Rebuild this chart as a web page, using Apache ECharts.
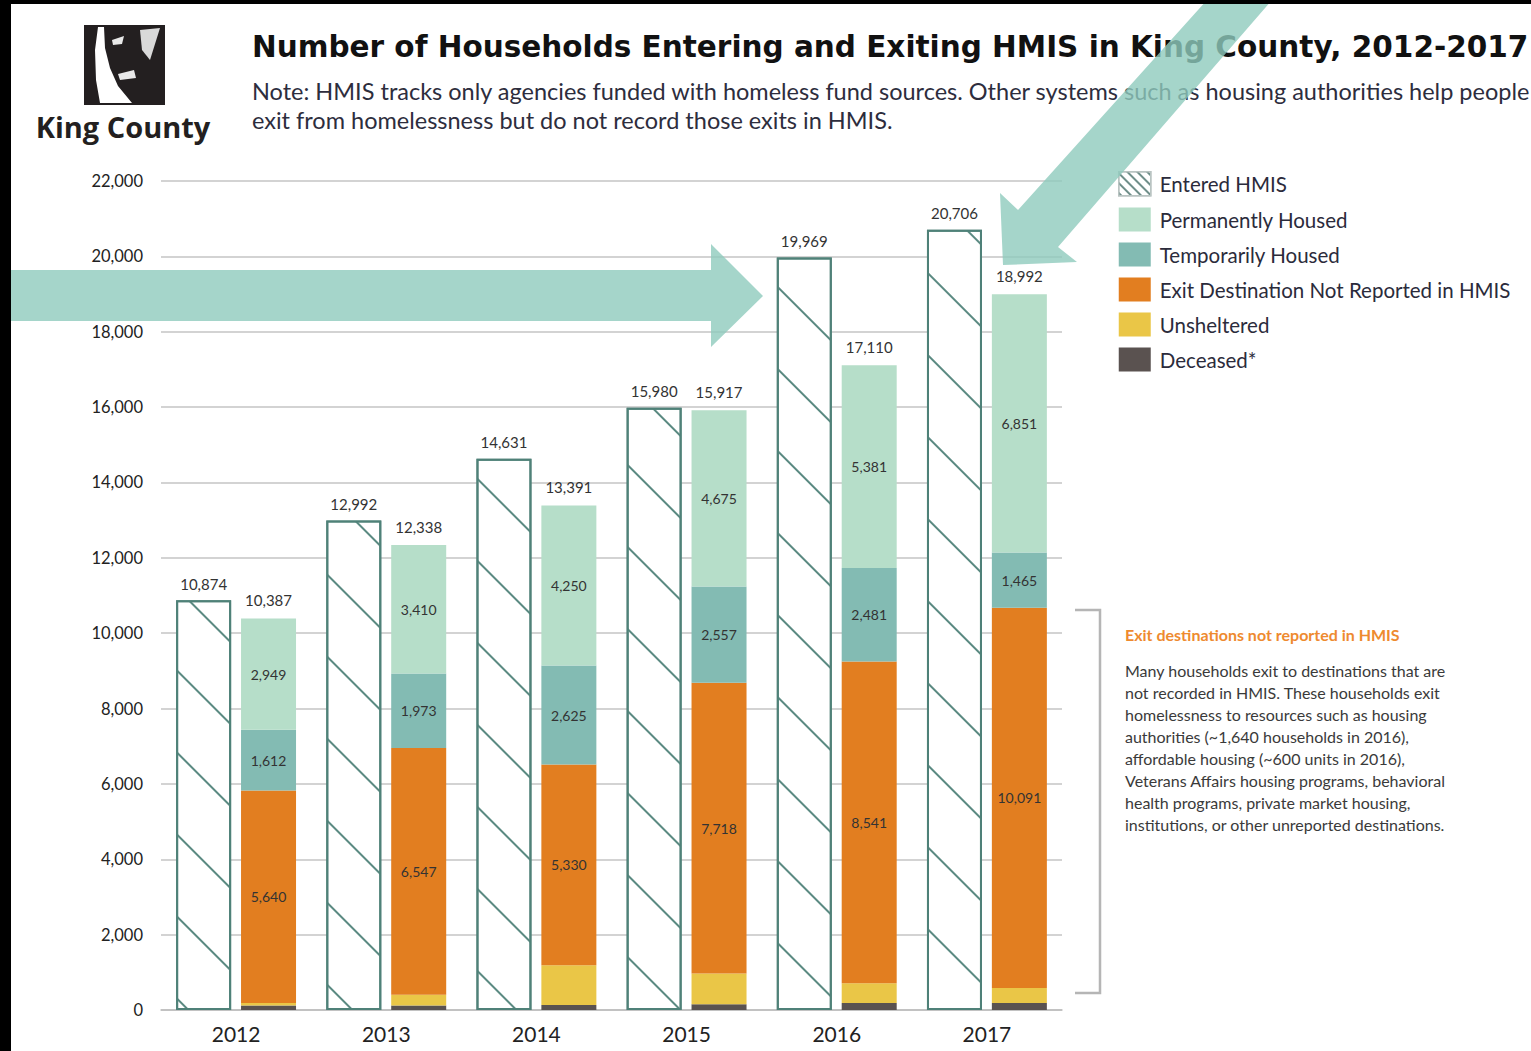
<!DOCTYPE html>
<html>
<head>
<meta charset="utf-8">
<title>Households Entering and Exiting HMIS, King County</title>
<script src="https://cdn.jsdelivr.net/npm/echarts@6/dist/echarts.min.js"></script>
<style>
  html, body { margin: 0; padding: 0; background: #fff; }
  #chart { width: 1531px; height: 1051px; }
</style>
</head>
<body>
<div id="chart"></div>
<script>
// values (2012-2017)
const years = ['2012', '2013', '2014', '2015', '2016', '2017'];
const entered = [10874, 12992, 14631, 15980, 19969, 20706];
const permHoused = [2949, 3410, 4250, 4675, 5381, 6851];
const tempHoused = [1612, 1973, 2625, 2557, 2481, 1465];
const notReported = [5640, 6547, 5330, 7718, 8541, 10091];
const unsheltered = [66, 290, 1050, 817, 522, 400];
const deceased = [120, 118, 136, 150, 185, 185];
const exitTotals = [10387, 12338, 13391, 15917, 17110, 18992];

const yMax = 22000;
const yStep = 2000;

const fmt = v => Number(v).toLocaleString('en-US');
const BODY = 'Lato, "Open Sans", sans-serif';

const chart = echarts.init(document.getElementById('chart'), null, { renderer: 'svg' });

// hatch pattern for the "Entered HMIS" bars
const hatch = {
  symbol: 'rect',
  symbolSize: 1,
  color: '#5b8a82',
  dashArrayX: [1, 0],
  dashArrayY: [2, 56],
  rotation: Math.PI / 4
};

const insideLabel = {
  show: true,
  position: 'inside',
  fontFamily: BODY,
  fontSize: 14,
  color: '#333'
};

function exitSeries(name, data, color, withLabel) {
  return {
    name: name,
    type: 'bar',
    stack: 'exit',
    barWidth: 55,
    data: data,
    itemStyle: { color: color },
    label: withLabel ? Object.assign({ formatter: p => fmt(p.value) }, insideLabel) : { show: false }
  };
}

chart.setOption({
  animation: false,
  backgroundColor: '#fff',
  title: {
    text: 'Number of Households Entering and Exiting HMIS in King County, 2012-2017',
    subtext: 'Note: HMIS tracks only agencies funded with homeless fund sources. Other systems such as housing authorities help people\nexit from homelessness but do not record those exits in HMIS.',
    left: 252,
    top: 32,
    padding: 0,
    itemGap: 14,
    textStyle: { fontFamily: '"DejaVu Sans", sans-serif', fontWeight: 'bold', fontSize: 29.5, color: '#111' },
    subtextStyle: { fontFamily: BODY, fontSize: 23.5, color: '#2d2d3d', lineHeight: 29 }
  },
  legend: {
    orient: 'vertical',
    left: 1118,
    top: 171,
    padding: 0,
    itemWidth: 32,
    itemHeight: 24,
    itemGap: 11,
    icon: 'rect',
    selectedMode: false,
    textStyle: { fontFamily: BODY, fontSize: 20.5, color: '#2b2b3b', padding: [0, 0, 0, 4] },
    data: [
      {
        name: 'Entered HMIS',
        itemStyle: {
          color: '#fff', borderColor: '#b9c4c2', borderWidth: 1.5,
          decal: { symbol: 'rect', symbolSize: 1, color: '#6f8f8a', dashArrayX: [1, 0], dashArrayY: [2, 5], rotation: Math.PI / 4 }
        }
      },
      'Permanently Housed',
      'Temporarily Housed',
      'Exit Destination Not Reported in HMIS',
      'Unsheltered',
      'Deceased*'
    ]
  },
  grid: { left: 161, right: 469, top: 181, bottom: 41 },
  xAxis: {
    type: 'category',
    data: years,
    axisLine: { lineStyle: { color: '#bdbdbd', width: 1.5 } },
    axisTick: { show: false },
    axisLabel: { fontFamily: BODY, fontSize: 21, color: '#222', margin: 13 }
  },
  yAxis: {
    type: 'value',
    min: 0,
    max: yMax,
    interval: yStep,
    axisLine: { show: false },
    axisTick: { show: false },
    splitLine: { lineStyle: { color: '#c4c4c4', width: 1.5 } },
    axisLabel: { fontFamily: BODY, fontSize: 16.5, color: '#222', margin: 18, formatter: v => fmt(v) }
  },
  series: [
    {
      name: 'Entered HMIS',
      type: 'bar',
      barWidth: 55,
      data: entered,
      itemStyle: { color: '#fff', borderColor: '#4f8178', borderWidth: 2, decal: hatch },
      label: {
        show: true, position: 'top', distance: 9,
        fontFamily: BODY, fontSize: 15, color: '#333',
        formatter: p => fmt(p.value)
      }
    },
    exitSeries('Deceased*', deceased, '#5a5250', false),
    exitSeries('Unsheltered', unsheltered, '#eac647', false),
    exitSeries('Exit Destination Not Reported in HMIS', notReported, '#e27e20', true),
    exitSeries('Temporarily Housed', tempHoused, '#83bbb3', true),
    exitSeries('Permanently Housed', permHoused, '#b6dec9', true),
    {
      // zero-height cap that carries the total exits label
      name: 'Exit total',
      type: 'bar',
      stack: 'exit',
      barWidth: 55,
      barGap: '18%',
      silent: true,
      data: exitTotals.map(() => 0),
      itemStyle: { color: 'rgba(0,0,0,0)' },
      label: {
        show: true, position: 'top', distance: 11,
        fontFamily: BODY, fontSize: 15, color: '#333',
        formatter: p => fmt(exitTotals[p.dataIndex])
      }
    }
  ],
  graphic: [
    // King County logo (rough)
    { type: 'rect', shape: { x: 84, y: 25, width: 81, height: 80 }, style: { fill: '#231f20' } },
    { type: 'polygon', shape: { points: [[98, 27], [104, 27], [105, 48], [110, 68], [118, 86], [132, 103], [100, 103], [96, 80], [95, 50]] }, style: { fill: '#fff' } },
    { type: 'polygon', shape: { points: [[112, 40], [124, 36], [122, 44], [113, 45]] }, style: { fill: '#e8e8e8' } },
    { type: 'polygon', shape: { points: [[118, 74], [134, 70], [136, 78], [120, 80]] }, style: { fill: '#e8e8e8' } },
    { type: 'polygon', shape: { points: [[140, 30], [160, 28], [150, 60], [142, 50]] }, style: { fill: '#d9d9d9' } },
    {
      type: 'text', x: 123, y: 126,
      style: { text: 'King County', fill: '#231f20', font: 'bold 29px "Open Sans", sans-serif', textAlign: 'center', textVerticalAlign: 'middle' }
    },
    // bracket + note on unreported exits
    {
      type: 'polyline',
      shape: { points: [[1075, 610], [1100, 610], [1100, 993], [1075, 993]] },
      style: { stroke: '#b5b5b5', lineWidth: 2.5, fill: null }
    },
    {
      type: 'text', x: 1125, y: 626,
      style: { text: 'Exit destinations not reported in HMIS', fill: '#ee8a2f', font: 'bold 16px Lato, sans-serif' }
    },
    {
      type: 'text', x: 1125, y: 659,
      style: {
        text: 'Many households exit to destinations that are\nnot recorded in HMIS. These households exit\nhomelessness to resources such as housing\nauthorities (~1,640 households in 2016),\naffordable housing (~600 units in 2016),\nVeterans Affairs housing programs, behavioral\nhealth programs, private market housing,\ninstitutions, or other unreported destinations.',
        fill: '#3a3a3a', font: '16px Lato, sans-serif', lineHeight: 22
      }
    },
    // teal highlight arrows
    {
      type: 'polygon', z: 100,
      shape: { points: [[11, 270], [711, 270], [711, 244], [763, 296], [711, 347], [711, 321], [11, 321]] },
      style: { fill: '#8fcbbd', opacity: 0.8 }
    },
    {
      type: 'polygon', z: 100,
      shape: { points: [[1207, 0], [1018, 210], [1000, 193], [1003, 265], [1077, 262], [1058, 247], [1272, 0]] },
      style: { fill: '#8fcbbd', opacity: 0.8 }
    },
    // black frame edges
    { type: 'rect', z: 200, shape: { x: 0, y: 0, width: 11, height: 1051 }, style: { fill: '#000' } },
    { type: 'rect', z: 200, shape: { x: 0, y: 0, width: 1531, height: 4 }, style: { fill: '#000' } }
  ]
});
</script>
</body>
</html>
